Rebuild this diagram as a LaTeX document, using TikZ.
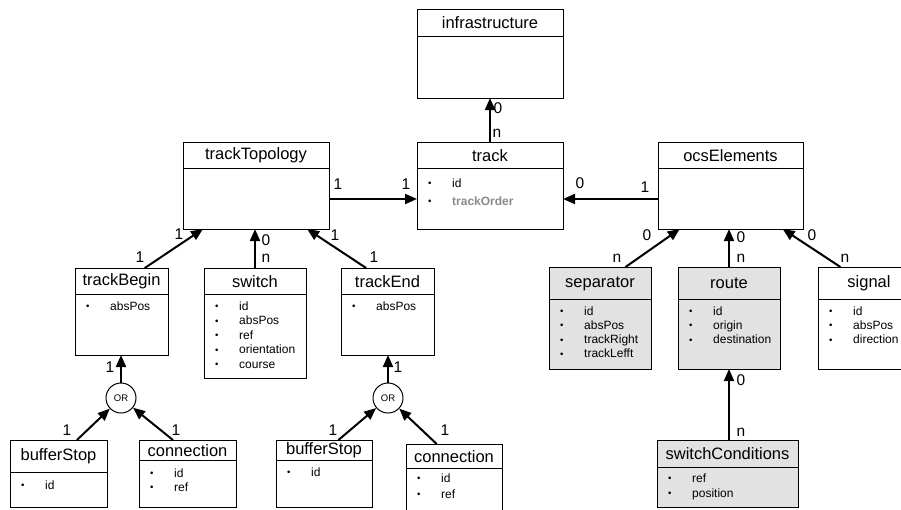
\documentclass[tikz,border=0pt]{standalone}
\usepackage{fontspec}
\setmainfont{Liberation Sans}
\usetikzlibrary{arrows.meta,calc}

\definecolor{boxgray}{HTML}{E2E2E2}
\definecolor{attrgray}{HTML}{8A8A8A}

\tikzset{
  classframe/.style={draw=black, line width=1pt, rectangle, inner sep=0pt,
    outer sep=0pt, anchor=north west},
  classtitle/.style={font=\fontsize{16.5}{18}\selectfont, inner sep=0pt},
  attrlist/.style={inner sep=0pt, anchor=base west},
  assoc/.style={line width=2pt, -{Triangle[length=12pt,width=10pt]}},
  mult/.style={font=\fontsize{15.5}{17}\selectfont, inner sep=0pt},
  ornode/.style={circle, draw, line width=1pt, minimum size=30pt,
    inner sep=0pt, font=\fontsize{9.5}{11}\selectfont},
}

% class box: [fill]{name}{x1}{y1}{x2}{y2}{y of title rule}{title}
\newcommand{\umlclass}[8][white]{%
  \node[classframe, fill=#1, minimum width={#5-#3}, minimum height={#6-#4}]
    (#2) at (#3,#4) {};
  \draw[line width=1pt] (#3,#7) -- (#5,#7);
  \node[classtitle] (#2-title) at ({(#3+#5)/2},{(#4+#7)/2+0.5}) {#8};
}
% attribute list: {name}{x1 of box}{first baseline}{line pitch}{rows}
\newcommand{\umlattrs}[5]{%
  \node[attrlist] (#1) at (#2+11,#3)
    {\fontsize{12}{#4}\selectfont\begin{tabular}[t]{@{}p{24pt}@{}l@{}}#5\end{tabular}};
}
\newcommand{\dotitem}{\raisebox{0.5pt}{\scalebox{0.8}{\textbullet}}&}

\begin{document}
\begin{tikzpicture}[x=1pt,y=-1pt]
\useasboundingbox (0,0) rectangle (901,509);
\clip (0,0) rectangle (901,509);

% ---- classes ----
\umlclass{infrastructure}{417}{9}{563}{98}{36}{infrastructure}
\umlclass{track}{417}{142}{563}{229}{168}{track}
\umlattrs{track-attr}{417}{187}{18.4}{\dotitem id\\ \dotitem \textcolor{attrgray}{\bfseries trackOrder}}
\umlclass{trackTopology}{183}{142}{329}{229}{168}{trackTopology}
\umlclass{ocsElements}{658}{142}{803}{229}{168}{ocsElements}

\umlclass{trackBegin}{75}{268}{168}{355}{294}{trackBegin}
\umlattrs{trackBegin-attr}{75}{310}{14.5}{\dotitem absPos}
\umlclass{switch}{204}{268}{306}{378}{294}{switch}
\umlattrs{switch-attr}{204}{310}{14.5}{\dotitem id\\ \dotitem absPos\\ \dotitem ref\\ \dotitem orientation\\ \dotitem course}
\umlclass{trackEnd}{341}{268}{434}{355}{294}{trackEnd}
\umlattrs{trackEnd-attr}{341}{310}{14.5}{\dotitem absPos}

\umlclass{bufferStopA}{10}{440}{107}{507}{472}{bufferStop}
\umlattrs{bufferStopA-attr}{10}{489}{14}{\dotitem id}
\umlclass{connectionA}{139}{440}{236}{507}{460}{connection}
\umlattrs{connectionA-attr}{139}{477}{14}{\dotitem id\\ \dotitem ref}
\umlclass{bufferStopB}{276}{440}{372}{507}{460}{bufferStop}
\umlattrs{bufferStopB-attr}{276}{476}{14}{\dotitem id}
\umlclass{connectionB}{406}{444}{502}{512}{468}{connection}
\umlattrs{connectionB-attr}{406}{482}{16}{\dotitem id\\ \dotitem ref}

\umlclass[boxgray]{separator}{549}{267}{651}{369}{299}{separator}
\umlattrs{separator-attr}{549}{315}{14.3}{\dotitem id\\ \dotitem absPos\\ \dotitem trackRight\\ \dotitem trackLefft}
\umlclass[boxgray]{route}{678}{267}{780}{369}{299}{route}
\umlattrs{route-attr}{678}{315}{14.3}{\dotitem id\\ \dotitem origin\\ \dotitem destination}
\umlclass{signal}{818}{267}{920}{369}{299}{signal}
\umlattrs{signal-attr}{818}{315}{14.3}{\dotitem id\\ \dotitem absPos\\ \dotitem direction}
\umlclass[boxgray]{switchConditions}{657}{440}{798}{507}{467}{switchConditions}
\umlattrs{switchConditions-attr}{657}{482}{15}{\dotitem ref\\ \dotitem position}

% ---- OR junctions ----
\node[ornode] (orA) at (121,398) {OR};
\node[ornode] (orB) at (388,398) {OR};

% ---- associations ----
\draw[assoc] ($(trackTopology.north east)!0.655!(trackTopology.south east)$)
  -- ($(track.north west)!0.655!(track.south west)$);
\draw[assoc] (track.north) -- (infrastructure.south);
\draw[assoc] ($(ocsElements.north west)!0.655!(ocsElements.south west)$)
  -- ($(track.north east)!0.655!(track.south east)$);

\draw[assoc] ($(trackBegin.north west)!0.75!(trackBegin.north east)$)
  -- ($(trackTopology.south west)!0.137!(trackTopology.south east)$);
\draw[assoc] (switch.north) -- (switch.north |- trackTopology.south);
\draw[assoc] ($(trackEnd.north west)!0.27!(trackEnd.north east)$)
  -- ($(trackTopology.south west)!0.85!(trackTopology.south east)$);

\draw[assoc] (orA.north) -- (orA.north |- trackBegin.south);
\draw[assoc] ($(bufferStopA.north west)!0.69!(bufferStopA.north east)$) -- (orA);
\draw[assoc] ($(connectionA.north west)!0.35!(connectionA.north east)$) -- (orA);
\draw[assoc] (orB.north) -- (orB.north |- trackEnd.south);
\draw[assoc] ($(bufferStopB.north west)!0.65!(bufferStopB.north east)$) -- (orB);
\draw[assoc] ($(connectionB.north west)!0.32!(connectionB.north east)$) -- (orB);

\draw[assoc] ($(separator.north west)!0.75!(separator.north east)$)
  -- ($(ocsElements.south west)!0.15!(ocsElements.south east)$);
\draw[assoc] (route.north) -- (route.north |- ocsElements.south);
\draw[assoc] ($(signal.north west)!0.22!(signal.north east)$)
  -- ($(ocsElements.south west)!0.86!(ocsElements.south east)$);
\draw[assoc] (route.south |- switchConditions.north) -- (route.south);

% ---- multiplicities ----
\node[mult] (m1a) at (338,184) {1};
\node[mult] (m1b) at (406,184) {1};
\node[mult] (m2a) at (498,108) {0};
\node[mult] (m2b) at (497,133) {n};
\node[mult] (m3a) at (580,183) {0};
\node[mult] (m3b) at (645,187) {1};
\node[mult] (m4a) at (179,234) {1};
\node[mult] (m4b) at (140,257) {1};
\node[mult] (m5a) at (266,240) {0};
\node[mult] (m5b) at (266,258) {n};
\node[mult] (m6a) at (335,235) {1};
\node[mult] (m6b) at (374,257) {1};
\node[mult] (m7) at (110,367) {1};
\node[mult] (m8) at (67,430) {1};
\node[mult] (m9) at (176,430) {1};
\node[mult] (m10) at (398,367) {1};
\node[mult] (m11) at (333,430) {1};
\node[mult] (m12) at (445,430) {1};
\node[mult] (m13a) at (647,235) {0};
\node[mult] (m13b) at (617,258) {n};
\node[mult] (m14a) at (741,237) {0};
\node[mult] (m14b) at (741,258) {n};
\node[mult] (m15a) at (812,235) {0};
\node[mult] (m15b) at (845,258) {n};
\node[mult] (m16a) at (741,380) {0};
\node[mult] (m16b) at (741,432) {n};
\end{tikzpicture}
\end{document}
